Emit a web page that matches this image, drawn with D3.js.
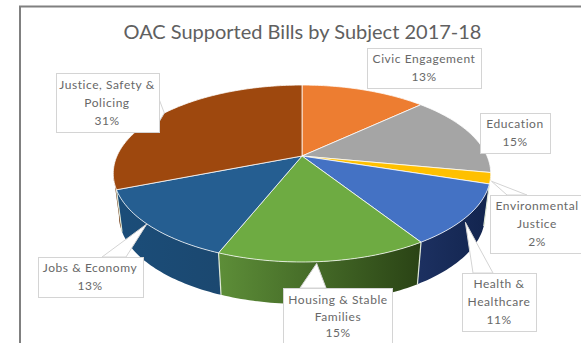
<!DOCTYPE html>
<html><head><meta charset="utf-8">
<script src="https://cdn.jsdelivr.net/npm/d3@7/dist/d3.min.js"></script>
<style>html,body{margin:0;padding:0;background:#fff}svg{display:block}</style>
</head><body><svg id="chart" width="581" height="343"></svg>
<script>
// Subjects and their share of supported bills, clockwise from twelve o'clock
const subjects = ["Civic Engagement","Education","Environmental Justice","Health & Healthcare","Housing & Stable Families","Jobs & Economy","Justice, Safety & Policing"];
const shares = [13,15,2,11,15,13,31];
const topColors = ["#ED7D31","#A5A5A5","#FFC000","#4472C4","#6EAB42","#255E91","#9E480E"];
const sideLeft = ["#8a4a1c","#666666","#9a7400","#1c3060","#5d8e38","#1b4d79","#6a3009"];
const sideRight = ["#8a4a1c","#666666","#9a7400","#12244e","#2a4315","#1b4870","#6a3009"];
const labelLines = [["Civic Engagement"],["Education"],["Environmental","Justice"],["Health &","Healthcare"],["Housing & Stable","Families"],["Jobs & Economy"],["Justice, Safety &","Policing"]];
const titleText = "OAC Supported Bills by Subject 2017-18";

// Label boxes: left, top, right, bottom
const boxes = [[367,48,481,88],[480,113,550,153],[490,195,590,253],[462,273,536,331],[283,288,392,350],[38,257,143,297],[56,73,159,132]];
// Pointer base: which box edge it leaves from and the span along that edge
const pointerBase = [null,null,["top",507,527],["top",473,493],["top",300,326],["top",102,126],["right",99,122]];
// Small offset of each pointer tip from the slice's rim midpoint
const tipNudge = [[0,0],[0,0],[1,3],[-3,7],[-7,2],[-3,-2],[0,0]];
// Horizontal centre of the text inside each box
const textCenter = [424,515,537,499,338,90,107];

const svg = d3.select("#chart");
const TAU = 2*Math.PI;

// Tilted disc with perspective: the far half is foreshortened more than the near half
const cx = 302, cy = 156, radX = 185, radY = 85, persp = 0.198, depth = 42, baseShrink = 0.97;
function project(angle, r=1, drop=0, shrink=1){
  const u = Math.sin(angle)*r, v = Math.cos(angle)*r, w = 1 + persp*v;
  return [cx + radX*shrink*u/w, cy - radY*v/w + drop];
}
const steps = (a0,a1) => { const n = Math.max(2, Math.ceil((a1-a0)/0.02)); return d3.range(n+1).map(i => a0+(a1-a0)*i/n); };
const pieGen = d3.pie().sort(null).value(d => d);
const arcs = pieGen(shares);
const line = d3.line();

// Chart frame
svg.append("path").attr("d", line([[20,343],[20,6.5],[581,6.5]])).attr("fill","none").attr("stroke","#808080").attr("stroke-width",2);

svg.append("text").attr("x",302.5).attr("y",39).attr("text-anchor","middle")
  .attr("font-family","Lato").attr("font-size",20).attr("fill","#606060").text(titleText);

const defs = svg.append("defs");
arcs.forEach((d,i) => {
  const g = defs.append("linearGradient").attr("id","side"+i).attr("gradientUnits","userSpaceOnUse");
  const xs = steps(d.startAngle,d.endAngle).map(a => project(a)[0]);
  g.attr("x1",d3.min(xs)).attr("x2",d3.max(xs)).attr("y1",0).attr("y2",0);
  g.append("stop").attr("offset",0).attr("stop-color",sideLeft[i]);
  g.append("stop").attr("offset",1).attr("stop-color",sideRight[i]);
});

// Outer wall, only where the rim faces the viewer
const frontStart = Math.PI/2 + Math.asin(persp), frontEnd = TAU - frontStart;
arcs.forEach((d,i) => {
  const a0 = Math.max(d.startAngle,frontStart), a1 = Math.min(d.endAngle,frontEnd);
  if (a1 <= a0) return;
  const as = steps(a0,a1);
  const pts = as.map(a => project(a)).concat(as.slice().reverse().map(a => project(a,1,depth,baseShrink)));
  svg.append("path").attr("d",line(pts)+"Z").attr("fill",`url(#side${i})`);
  // light edge between neighbouring wall segments
  if (d.startAngle > frontStart && d.startAngle < frontEnd)
    svg.append("path").attr("d",line([project(a0),project(a0,1,depth,baseShrink)])).attr("stroke","#dfe8d8").attr("stroke-width",1.2);
});

// Top face
arcs.forEach((d,i) => {
  const pts = [project(0,0)].concat(steps(d.startAngle,d.endAngle).map(a => project(a)));
  svg.append("path").attr("d",line(pts)+"Z").attr("fill",topColors[i])
    .attr("stroke","#fff").attr("stroke-opacity",0.75).attr("stroke-width",1);
});

// Callout pointers and label boxes
arcs.forEach((d,i) => {
  const b = boxes[i], base = pointerBase[i];
  if (base) {
    const mid = project((d.startAngle+d.endAngle)/2);
    const tip = [mid[0]+tipNudge[i][0], mid[1]+tipNudge[i][1]];
    const corners = base[0] === "top" ? [[base[2],b[1]],[base[1],b[1]]] : [[b[2],base[1]],[b[2],base[2]]];
    svg.append("path").attr("d",line([tip,...corners])+"Z")
      .attr("fill","#fff").attr("stroke","#d4d4d4").attr("stroke-width",1);
  }
  svg.append("rect").attr("x",b[0]+.5).attr("y",b[1]+.5).attr("width",b[2]-b[0]).attr("height",b[3]-b[1])
    .attr("fill","#fff").attr("stroke","#d4d4d4").attr("stroke-width",1);
  const lines = labelLines[i].concat([shares[i]+"%"]);
  // the bottom box runs off the page, so its lines sit closer together
  const lh = i===4 ? 16.5 : 18, top = b[1] + (i===4 ? 16 : (b[3]-b[1]-lh*lines.length)/2 + 13);
  lines.forEach((t,j) => {
    svg.append("text").attr("x",textCenter[i]).attr("y",top+j*lh).attr("text-anchor","middle")
      .attr("font-family","Lato").attr("font-size",12).attr("letter-spacing",0.55).attr("fill","#686868").text(t);
  });
});
</script></body></html>
